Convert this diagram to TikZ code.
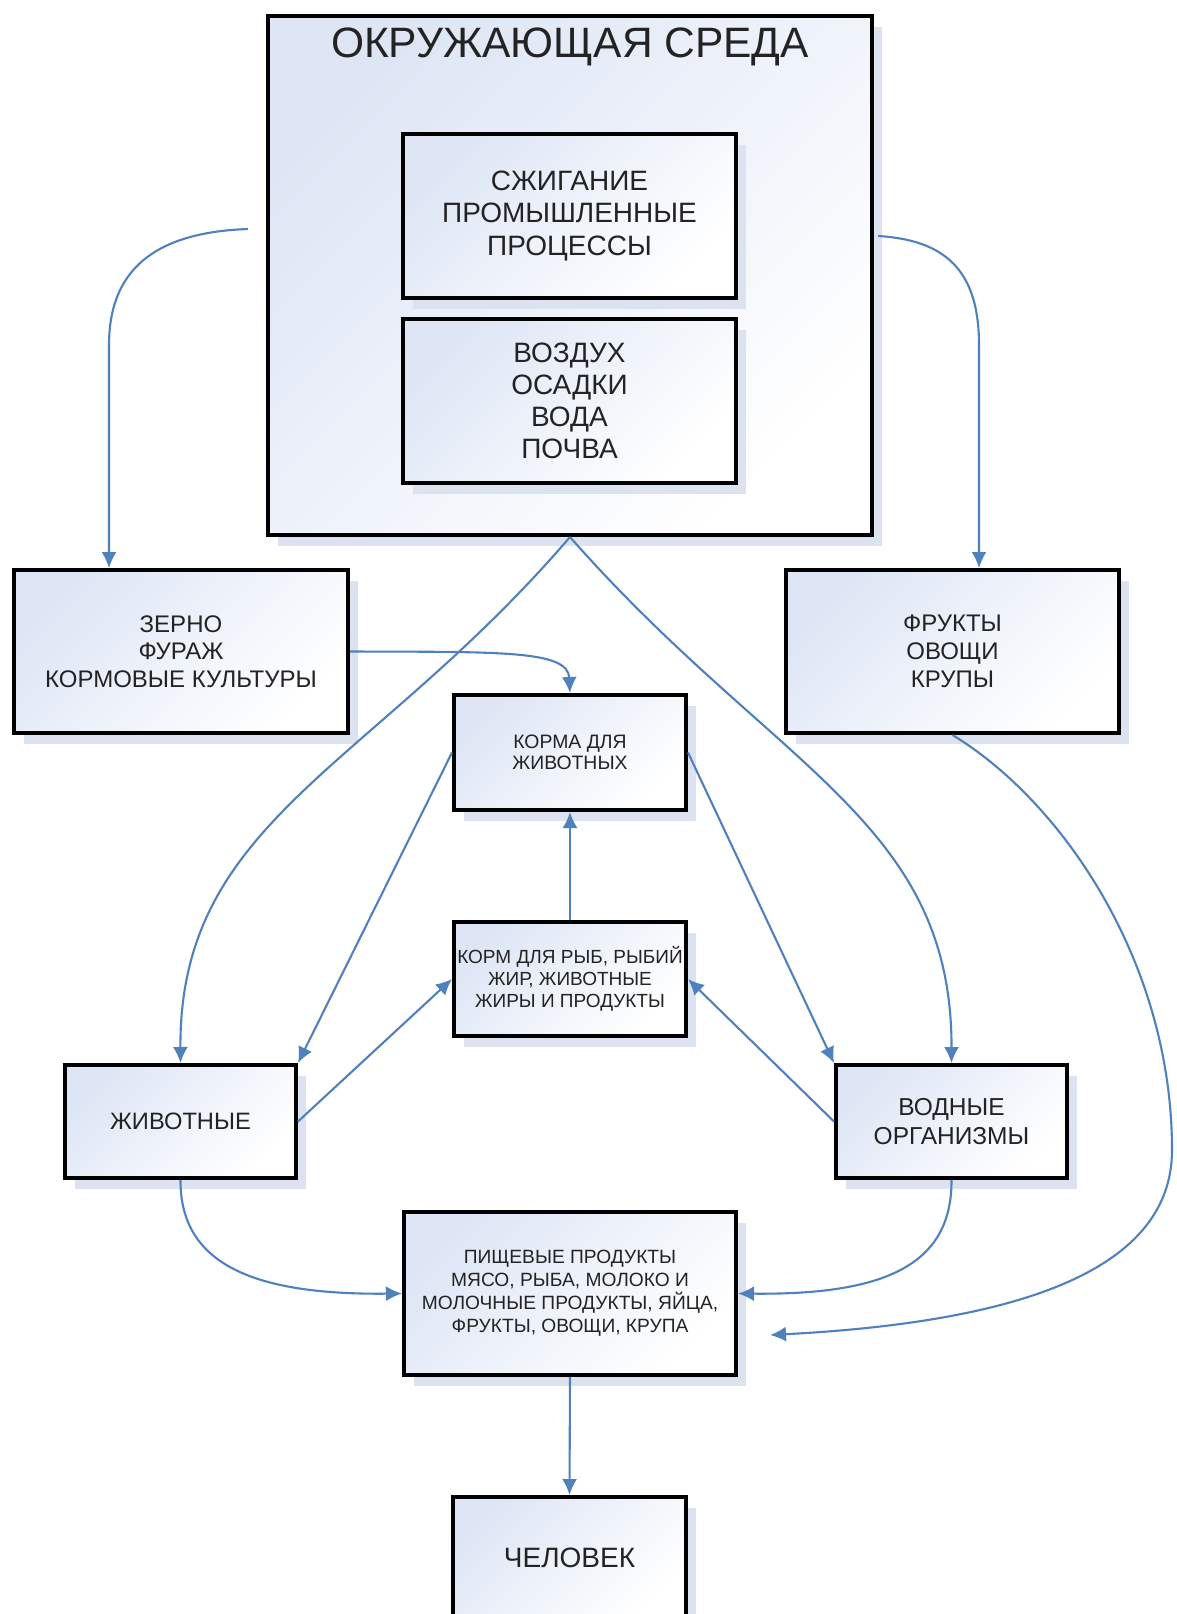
\documentclass[tikz,border=0pt]{standalone}
\usepackage{fontspec}
\setmainfont{Liberation Sans}
\usetikzlibrary{arrows.meta, positioning, shadows}
\definecolor{flowblue}{RGB}{79,129,189}
\definecolor{boxblue}{RGB}{222,230,245}
\definecolor{shadowblue}{RGB}{220,226,239}
\definecolor{inkgray}{RGB}{35,35,35}

\tikzset{
  box/.style={draw=black, line width=4pt, text=inkgray, align=center, inner sep=0pt,
    top color=boxblue, bottom color=white, shading angle=45,
    drop shadow={shadow xshift=10pt, shadow yshift=-11pt, fill=shadowblue, opacity=1}},
  flow/.style={flowblue, line width=2.1pt, -{Latex[length=16pt,width=15pt]}},
}

\begin{document}
\begin{tikzpicture}[x=1pt, y=-1pt]
  \useasboundingbox (0,0) rectangle (1176,1614);
  \clip (0,0) rectangle (1176,1614);
  \fill[white] (0,0) rectangle (1176,1614);

  % environment
  \node[box, minimum width=604pt, minimum height=519pt] (env) at (570,275.5) {};
  \node[anchor=base, text=inkgray, font=\fontsize{42.5}{48}\selectfont] (envtitle) at (570,57) {ОКРУЖАЮЩАЯ СРЕДА};
  \node[box, minimum width=333pt, minimum height=164pt, font=\fontsize{28}{32.5}\selectfont] (burn) at (569.5,216)
    {СЖИГАНИЕ\\ПРОМЫШЛЕННЫЕ\\ПРОЦЕССЫ};
  \node[box, minimum width=333pt, minimum height=164pt, font=\fontsize{28}{32}\selectfont] (media) at (569.5,401)
    {ВОЗДУХ\\ОСАДКИ\\ВОДА\\ПОЧВА};

  % crops
  \node[box, minimum width=334pt, minimum height=163pt, font=\fontsize{24}{27.5}\selectfont] (grain) at (181,651.5)
    {ЗЕРНО\\ФУРАЖ\\КОРМОВЫЕ КУЛЬТУРЫ};
  \node[box, minimum width=333pt, minimum height=163pt, font=\fontsize{24}{28}\selectfont] (fruit) at (952.5,651.5)
    {ФРУКТЫ\\ОВОЩИ\\КРУПЫ};

  % feed
  \node[box, minimum width=232pt, minimum height=115pt, font=\fontsize{19.4}{21.5}\selectfont] (feed) at (570,752.5)
    {КОРМА ДЛЯ\\ЖИВОТНЫХ};
  \node[box, minimum width=232pt, minimum height=114pt, font=\fontsize{19}{22}\selectfont] (fishfeed) at (570,979)
    {КОРМ ДЛЯ РЫБ, РЫБИЙ\\ЖИР, ЖИВОТНЫЕ\\ЖИРЫ И ПРОДУКТЫ};

  % organisms
  \node[box, minimum width=231pt, minimum height=113pt, font=\fontsize{23.7}{28}\selectfont] (animals) at (180.5,1121.5)
    {ЖИВОТНЫЕ};
  \node[box, minimum width=231pt, minimum height=113pt, font=\fontsize{24.5}{29}\selectfont] (aquatic) at (951.5,1121.5)
    {ВОДНЫЕ\\ОРГАНИЗМЫ};

  % food and human
  \node[box, minimum width=332pt, minimum height=163pt, font=\fontsize{19.2}{23}\selectfont] (food) at (570,1293.5)
    {ПИЩЕВЫЕ ПРОДУКТЫ\\МЯСО, РЫБА, МОЛОКО И\\МОЛОЧНЫЕ ПРОДУКТЫ, ЯЙЦА,\\ФРУКТЫ, ОВОЩИ, КРУПА};
  \node[box, minimum width=233pt, minimum height=122pt, font=\fontsize{28}{32}\selectfont] (human) at (569.5,1558)
    {ЧЕЛОВЕК};

  % free ends
  \coordinate (envL) at (248,229);
  \coordinate (envR) at (878,236);
  \coordinate (lturn) at (109,345);
  \coordinate (rturn) at (979,345);
  \coordinate (fturn) at (1172,1150);
  \coordinate (foodin) at (770,1335);

  % connectors
  \draw[flow] (envL) .. controls (165,232) and (109,262) .. (lturn) -- (lturn |- grain.north);
  \draw[flow] (envR) .. controls (945,240) and (979,270) .. (rturn) -- (rturn |- fruit.north);
  \draw[flow] (env.south) .. controls (370,770) and (179,820) .. (animals.north);
  \draw[flow] (env.south) .. controls (775,770) and (952,820) .. (aquatic.north);
  \draw[flow] (grain.east) .. controls (500,652) and (568,650) .. (feed.north);
  \draw[flow] (feed.west) -- (animals.north east);
  \draw[flow] (feed.east) -- (aquatic.north west);
  \draw[flow] (fishfeed.north) -- (feed.south);
  \draw[flow] (animals.east) -- (fishfeed.west);
  \draw[flow] (aquatic.west) -- (fishfeed.east);
  \draw[flow] (animals.south) .. controls (180,1265) and (255,1295) .. (food.west);
  \draw[flow] (aquatic.south) .. controls (952,1265) and (885,1295) .. (food.east);
  \draw[flow] (fruit.south) .. controls (1060,800) and (1172,960) .. (fturn)
    .. controls (1172,1270) and (1020,1322) .. (foodin);
  \draw[flow] (food.south) -- (human.north);
\end{tikzpicture}
\end{document}
